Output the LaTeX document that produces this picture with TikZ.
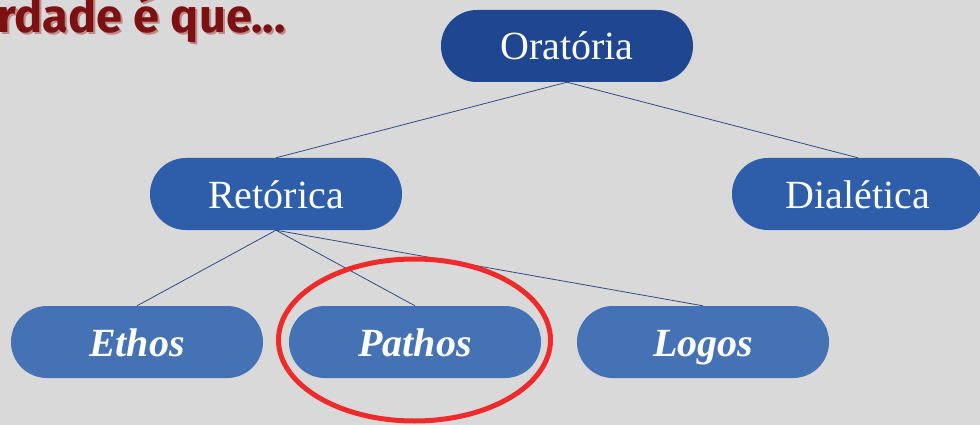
\documentclass[tikz,border=0pt]{standalone}
\usepackage{fontspec}
\setmainfont{Liberation Serif}
\newfontfamily\titlefont{Fira Sans}
\definecolor{bg}{HTML}{D9D9D9}
\definecolor{topblue}{HTML}{1F4690}
\definecolor{midblue}{HTML}{2E5EAA}
\definecolor{lowblue}{HTML}{4472B5}
\definecolor{linkblue}{HTML}{2F4A8A}
\definecolor{titlered}{HTML}{7B1113}
\definecolor{shadowred}{HTML}{C08A88}
\definecolor{ringred}{HTML}{EE2A2A}
\newcommand{\shadowtext}[1]{\makebox[0pt][l]{\hspace{2pt}\raisebox{-2pt}{\textcolor{shadowred}{#1}}}\textcolor{titlered}{#1}}
\tikzset{
  pill/.style={rectangle, rounded corners=35.9pt, minimum width=252pt, minimum height=72pt,
    inner sep=0pt, text height=28pt, text depth=0pt, text=white, font=\fontsize{40}{48}\selectfont},
  pilltop/.style={pill, fill=topblue},
  pillmid/.style={pill, fill=midblue},
  pilllow/.style={pill, fill=lowblue, font=\fontsize{40}{48}\selectfont\bfseries\itshape},
  link/.style={draw=linkblue, line width=0.8pt},
  ring/.style={draw=ringred, line width=5pt},
  headline/.style={anchor=base west, inner sep=0pt, font=\fontsize{47}{52}\selectfont\titlefont\bfseries}
}
\begin{document}
\begin{tikzpicture}[x=1pt, y=-1pt]
  \fill[bg] (0,0) rectangle (980,425);
  \useasboundingbox (0,0) rectangle (980,425);
  % title
  \node[headline] (title) at (-3,33) {\shadowtext{rdade é que...}};
  % nodes
  \node[pilltop] (ora) at (567,46) {Oratória};
  \node[pillmid] (ret) at (276,194) {Retórica};
  \node[pillmid] (dia) at (858,194) {Dialética};
  \node[pilllow] (eth) at (137,342) {Ethos};
  \node[pilllow] (pat) at (415,342) {Pathos};
  \node[pilllow] (log) at (703,342) {Logos};
  % connectors
  \draw[link] (ora.south) -- (ret.north);
  \draw[link] (ora.south) -- (dia.north);
  \draw[link] (ret.south) -- (eth.north);
  \draw[link] (ret.south) -- (pat.north);
  \draw[link] (ret.south) -- (log.north);
  % highlight ring
  \draw[ring] (414.5,340) ellipse [x radius=136pt, y radius=81pt];
\end{tikzpicture}
\end{document}
